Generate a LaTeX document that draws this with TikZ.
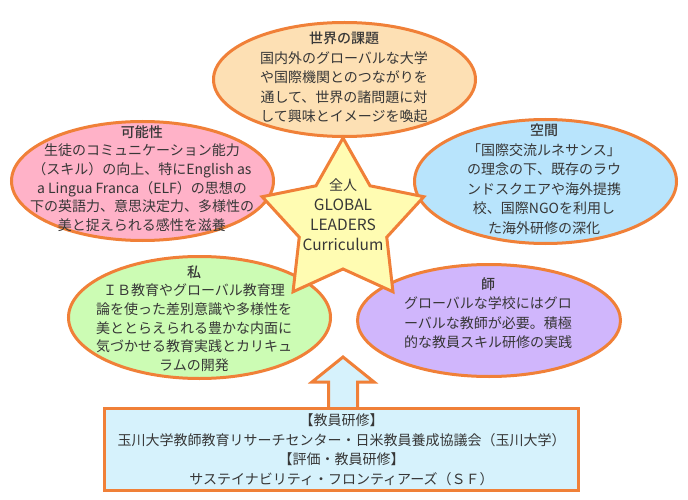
\documentclass[tikz,border=0pt]{standalone}
\usepackage{fontspec}
\setmainfont{Noto Sans CJK JP}[BoldFont={Noto Sans CJK JP Medium}]
\usetikzlibrary{shapes.geometric}
\definecolor{ostroke}{RGB}{240,128,56}
\definecolor{peach}{RGB}{253,224,180}
\definecolor{pinkf}{RGB}{255,178,200}
\definecolor{bluef}{RGB}{184,228,252}
\definecolor{greenf}{RGB}{204,252,180}
\definecolor{purplef}{RGB}{208,182,252}
\definecolor{starf}{RGB}{255,252,178}
\definecolor{boxf}{RGB}{214,242,252}
\definecolor{txtc}{RGB}{55,55,55}
\tikzset{
  bubble/.style={ellipse, draw=ostroke, line width=3pt, inner sep=0pt},
  txt/.style={align=center, text=txtc, font=\fontsize{14}{19.5}\selectfont, inner sep=0pt},
  txtn/.style={align=center, text=txtc, font=\fontsize{14}{18.6}\selectfont, inner sep=0pt},
  shape5/.style={draw=ostroke, line width=3pt, fill=starf, line join=miter},
  boxstyle/.style={rectangle, draw=ostroke, line width=3pt, fill=boxf, align=center, text=txtc,
    font=\fontsize{14}{19.5}\selectfont, inner sep=0pt},
  arrowstyle/.style={draw=ostroke, line width=3pt, fill=boxf, line join=miter}
}
\newcommand{\latbig}[1]{{\fontsize{15.5}{20}\selectfont #1}}
\begin{document}
\begin{tikzpicture}[x=1pt,y=-1pt]
\useasboundingbox (0,0) rectangle (688,500);
% bubbles
\node[bubble, fill=peach, minimum width=262pt, minimum height=114pt] (kadai) at (344.5,79.5) {};
\node[bubble, fill=pinkf, minimum width=262pt, minimum height=119pt] (kanou) at (142.5,181) {};
\node[bubble, fill=bluef, minimum width=262pt, minimum height=124pt] (kukan) at (545.5,181.5) {};
\node[bubble, fill=greenf, minimum width=262pt, minimum height=122pt] (watashi) at (199.5,317.5) {};
\node[bubble, fill=purplef, minimum width=263pt, minimum height=112pt] (shi) at (489,320.5) {};
% texts
\node[txt] (kadaiT) at (344,77.5) {\textbf{世界の課題}\\国内外のグローバルな大学\\や国際機関とのつながりを\\通して、世界の諸問題に対\\して興味とイメージを喚起};
\node[txtn] (kanouT) at (142,178.5) {\textbf{可能性}\\生徒のコミュニケーション能力\\（スキル）の向上、特にEnglish as\\a Lingua Franca（ELF）の思想の\\下の英語力、意思決定力、多様性の\\美と捉えられる感性を滋養};
\node[txt] (kukanT) at (544,179) {\textbf{空間}\\「国際交流ルネサンス」\\の理念の下、既存のラウ\\ンドスクエアや海外提携\\校、国際NGOを利用し\\た海外研修の深化};
\node[txtn] (watashiT) at (194,318.5) {\textbf{私}\\ＩＢ教育やグローバル教育理\\論を使った差別意識や多様性を\\美ととらえられる豊かな内面に\\気づかせる教育実践とカリキュ\\ラムの開発};
\node[txt] (shiT) at (488,313) {\textbf{師}\\グローバルな学校にはグロ\\ーバルな教師が必要。積極\\的な教員スキル研修の実践};
% star
\coordinate (sc) at (343,223);
\draw[shape5] (sc) +(90:85pt) -- +(126:46pt) -- +(162:85pt) -- +(198:46pt) -- +(234:85pt)
  -- +(270:46pt) -- +(306:85pt) -- +(342:46pt) -- +(18:85pt) -- +(54:46pt) -- cycle;
\node[txt, font=\fontsize{14}{20}\selectfont] (star) at (343,215) {全人\\\latbig{GLOBAL}\\\latbig{LEADERS}\\\latbig{Curriculum}};
% arrow and box
\draw[arrowstyle] (328.5,408.5) -- (328.5,382) -- (312,382) -- (343,357) -- (374,382)
  -- (357.5,382) -- (357.5,408.5);
\node[boxstyle, minimum width=474pt, minimum height=82pt] (box) at (341.5,449.5)
  {【教員研修】\\玉川大学教師教育リサーチセンター・日米教員養成協議会（玉川大学）\\【評価・教員研修】\\サステイナビリティ・フロンティアーズ（ＳＦ）};
\end{tikzpicture}
\end{document}
